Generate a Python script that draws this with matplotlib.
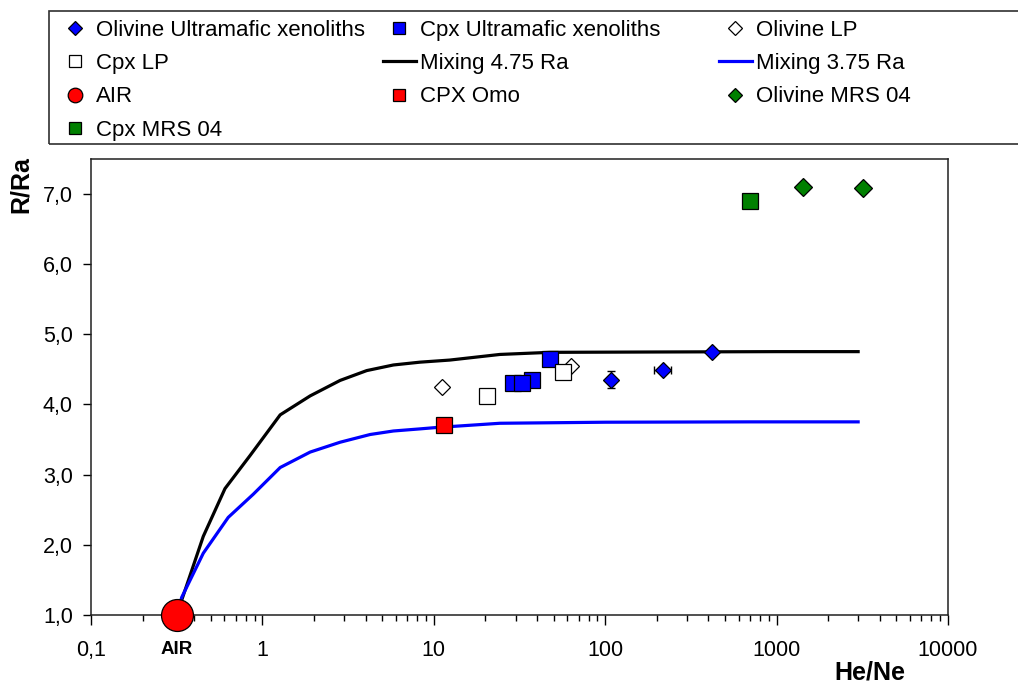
import matplotlib
matplotlib.use("Agg")
import matplotlib.pyplot as plt
from matplotlib.patches import Rectangle
from matplotlib.ticker import FixedLocator, LogLocator, NullFormatter, FuncFormatter

plt.rcParams['font.family'] = ['Liberation Sans', 'DejaVu Sans']

# He/Ne (x) vs R/Ra (y)
air_x = [0.318]
air_y = [1.0]

ol_um_x = [108, 217, 422]
ol_um_y = [4.35, 4.49, 4.74]
ol_um_xerr = [0, 24, 0]
ol_um_yerr = [0.12, 0, 0]

cpx_um_x = [37.2, 29.1, 32.6, 47.6]
cpx_um_y = [4.34, 4.30, 4.30, 4.64]

ol_lp_x = [11.2, 63.0]
ol_lp_y = [4.25, 4.54]

cpx_lp_x = [20.5, 57.0]
cpx_lp_y = [4.12, 4.46]

omo_x = [11.4]
omo_y = [3.70]

ol_mrs_x = [1432, 3177]
ol_mrs_y = [7.09, 7.08]

cpx_mrs_x = [703]
cpx_mrs_y = [6.89]

mix475_x = [0.318, 0.338, 0.452, 0.605, 0.847, 1.27, 1.90, 2.84, 4.06,
            5.81, 8.30, 12.4, 24.3, 47.6, 200, 1000, 2990]
mix475_y = [1.0, 1.21, 2.12, 2.80, 3.27, 3.85, 4.12, 4.34, 4.48,
            4.56, 4.60, 4.63, 4.71, 4.74, 4.745, 4.75, 4.75]

mix375_x = [0.318, 0.338, 0.452, 0.632, 0.885, 1.27, 1.90, 2.84, 4.25, 5.81,
            8.30, 10.4, 24.3, 100, 700, 2990]
mix375_y = [1.0, 1.25, 1.88, 2.39, 2.72, 3.10, 3.32, 3.46, 3.57, 3.62,
            3.65, 3.67, 3.73, 3.745, 3.75, 3.75]

x_ticks = [0.1, 1, 10, 100, 1000, 10000]
x_tick_labels = ['0,1', '1', '10', '100', '1000', '10000']
y_ticks = [1, 2, 3, 4, 5, 6, 7]

fig = plt.figure(figsize=(10.18, 6.84), dpi=100)
W, H = 1018.0, 684.0
ax = fig.add_axes([91 / W, 1 - 615 / H, (948 - 91) / W, (615 - 158.5) / H])

ms_kw = dict(linestyle='none', markeredgecolor='black', markeredgewidth=0.9, zorder=4)

l_mix475, = ax.plot(mix475_x, mix475_y, color='black', lw=2.3, zorder=2, label='Mixing 4.75 Ra')
l_mix375, = ax.plot(mix375_x, mix375_y, color='#0000ff', lw=2.3, zorder=2, label='Mixing 3.75 Ra')

ax.errorbar(ol_um_x, ol_um_y, xerr=ol_um_xerr, yerr=ol_um_yerr, fmt='none',
            ecolor='black', elinewidth=1, capsize=3, capthick=1, zorder=3)
h_olum, = ax.plot(ol_um_x, ol_um_y, marker='D', ms=8.5, color='#0000ff',
                  label='Olivine Ultramafic xenoliths', **ms_kw)
h_cpxum, = ax.plot(cpx_um_x, cpx_um_y, marker='s', ms=11.2, color='#0000ff',
                   label='Cpx Ultramafic xenoliths', **ms_kw)
h_ollp, = ax.plot(ol_lp_x, ol_lp_y, marker='D', ms=8.5, markerfacecolor='white',
                  label='Olivine LP', **ms_kw)
h_cpxlp, = ax.plot(cpx_lp_x, cpx_lp_y, marker='s', ms=11.2, markerfacecolor='white',
                   label='Cpx LP', **ms_kw)
h_air, = ax.plot(air_x, air_y, marker='o', ms=23, color='#ff0000', clip_on=False,
                 label='AIR', **ms_kw)
h_omo, = ax.plot(omo_x, omo_y, marker='s', ms=11.2, color='#ff0000',
                 label='CPX Omo', **ms_kw)
h_olmrs, = ax.plot(ol_mrs_x, ol_mrs_y, marker='D', ms=8.8, color='#008000',
                   label='Olivine MRS 04', **ms_kw)
h_cpxmrs, = ax.plot(cpx_mrs_x, cpx_mrs_y, marker='s', ms=12, color='#008000',
                    label='Cpx MRS 04', **ms_kw)

ax.set_xscale('log')
ax.set_xlim(0.1, 10000)
ax.set_ylim(1, 7.5)
ax.xaxis.set_major_locator(FixedLocator(x_ticks))
ax.set_xticklabels(x_tick_labels)
ax.xaxis.set_minor_locator(LogLocator(base=10, subs=range(2, 10)))
ax.xaxis.set_minor_formatter(NullFormatter())
ax.set_yticks(y_ticks)
ax.yaxis.set_major_formatter(FuncFormatter(lambda v, p: ('%.1f' % v).replace('.', ',')))

ax.tick_params(axis='x', which='major', length=7, width=1, pad=11, labelsize=15.5)
ax.tick_params(axis='x', which='minor', length=4.5, width=1)
ax.tick_params(axis='y', which='major', length=6, width=1, pad=7, labelsize=15.5)
for s in ax.spines.values():
    s.set_linewidth(1.1)
    s.set_color('#202020')

# AIR label under the axis, like an extra tick label
ax.text(air_x[0], -0.075, 'AIR', transform=ax.get_xaxis_transform(),
        ha='center', va='center', fontsize=13.5, fontweight='bold')

fig.text(21 / W, 1 - 185 / H, 'R/Ra', rotation=90, ha='center', va='center',
         fontsize=18, fontweight='bold')
fig.text(870 / W, 1 - 672 / H, 'He/Ne', ha='center', va='center',
         fontsize=18, fontweight='bold')

# legend box, running off the right edge
fig.add_artist(Rectangle((49 / W, 1 - 144 / H), 1.0, (144 - 11) / H,
                         transform=fig.transFigure, facecolor='none',
                         edgecolor='#303030', lw=1.2, clip_on=False))

columns = [
    ([h_olum, h_cpxlp, h_air, h_cpxmrs], 58.5),
    ([h_cpxum, l_mix475, h_omo], 382.5),
    ([h_ollp, l_mix375, h_olmrs], 718.5),
]
legend_ms = {'D': 7.0, 's': 9.2, 'o': 10.5}
for handles, x0 in columns:
    leg = fig.legend(handles=handles, loc='upper left',
                     bbox_to_anchor=(x0 / W, 1 - 20 / H), frameon=False,
                     fontsize=16, numpoints=1, handlelength=1.5,
                     handletextpad=0.2, labelspacing=0.55, borderpad=0,
                     borderaxespad=0)
    for lh in leg.legend_handles:
        m = lh.get_marker()
        if m in legend_ms:
            lh.set_markersize(legend_ms[m])

fig.savefig('out.png', dpi=100)
